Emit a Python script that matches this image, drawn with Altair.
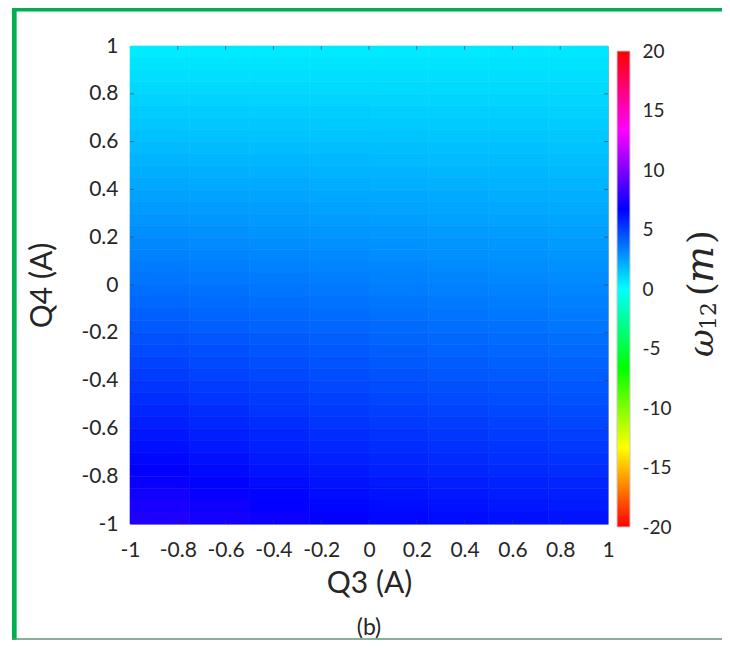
import altair as alt
import pandas as pd

# ---- data ----
q3_edges = [-1.0, -0.75, -0.5, -0.25, 0.0, 0.25, 0.5, 0.75, 1.0]
q4_edges = [1.0, 0.95, 0.9, 0.85, 0.8, 0.75, 0.7, 0.65, 0.6, 0.55, 0.5,
            0.45, 0.4, 0.35, 0.3, 0.25, 0.2, 0.15, 0.1, 0.05, 0.0,
            -0.05, -0.1, -0.15, -0.2, -0.25, -0.3, -0.35, -0.4, -0.45, -0.5,
            -0.55, -0.6, -0.65, -0.7, -0.75, -0.8, -0.85, -0.9, -0.95, -1.0]
# omega_12(m) per cell, rows from Q4 = 1 (top) down to Q4 = -1, columns Q3 = -1 .. 1
w12_rows = [
    [0.53, 0.54, 0.55, 0.56, 0.57, 0.58, 0.59, 0.60],
    [0.69, 0.69, 0.70, 0.70, 0.71, 0.71, 0.72, 0.72],
    [0.84, 0.84, 0.84, 0.84, 0.84, 0.84, 0.84, 0.84],
    [1.00, 0.99, 0.99, 0.98, 0.98, 0.97, 0.97, 0.96],
    [1.15, 1.14, 1.13, 1.12, 1.11, 1.10, 1.09, 1.08],
    [1.31, 1.30, 1.28, 1.27, 1.25, 1.24, 1.22, 1.21],
    [1.47, 1.45, 1.43, 1.41, 1.39, 1.37, 1.35, 1.33],
    [1.63, 1.60, 1.58, 1.55, 1.53, 1.50, 1.48, 1.45],
    [1.79, 1.76, 1.73, 1.70, 1.67, 1.64, 1.61, 1.58],
    [1.95, 1.92, 1.88, 1.85, 1.81, 1.78, 1.74, 1.71],
    [2.11, 2.07, 2.03, 1.99, 1.95, 1.91, 1.87, 1.83],
    [2.28, 2.23, 2.19, 2.14, 2.10, 2.05, 2.01, 1.96],
    [2.44, 2.39, 2.34, 2.29, 2.24, 2.19, 2.14, 2.09],
    [2.61, 2.55, 2.50, 2.44, 2.39, 2.33, 2.28, 2.22],
    [2.77, 2.71, 2.65, 2.59, 2.53, 2.47, 2.41, 2.35],
    [2.94, 2.88, 2.81, 2.75, 2.68, 2.62, 2.55, 2.49],
    [3.11, 3.04, 2.97, 2.90, 2.83, 2.76, 2.69, 2.62],
    [3.28, 3.20, 3.13, 3.05, 2.98, 2.90, 2.83, 2.75],
    [3.45, 3.37, 3.29, 3.21, 3.13, 3.05, 2.97, 2.89],
    [3.62, 3.54, 3.45, 3.37, 3.28, 3.20, 3.11, 3.03],
    [3.80, 3.71, 3.61, 3.52, 3.43, 3.34, 3.26, 3.17],
    [3.98, 3.88, 3.78, 3.68, 3.59, 3.49, 3.40, 3.32],
    [4.17, 4.06, 3.95, 3.84, 3.74, 3.65, 3.56, 3.47],
    [4.36, 4.23, 4.11, 4.00, 3.90, 3.80, 3.71, 3.62],
    [4.54, 4.41, 4.28, 4.16, 4.05, 3.95, 3.86, 3.77],
    [4.73, 4.59, 4.45, 4.33, 4.21, 4.11, 4.01, 3.93],
    [4.92, 4.77, 4.62, 4.49, 4.37, 4.26, 4.17, 4.08],
    [5.11, 4.95, 4.79, 4.65, 4.53, 4.42, 4.32, 4.24],
    [5.31, 5.13, 4.97, 4.82, 4.69, 4.58, 4.48, 4.40],
    [5.50, 5.31, 5.14, 4.99, 4.85, 4.74, 4.64, 4.55],
    [5.69, 5.49, 5.31, 5.16, 5.02, 4.89, 4.79, 4.71],
    [5.89, 5.68, 5.49, 5.32, 5.18, 5.06, 4.95, 4.87],
    [6.08, 5.86, 5.67, 5.49, 5.34, 5.22, 5.11, 5.03],
    [6.28, 6.05, 5.84, 5.66, 5.51, 5.38, 5.28, 5.20],
    [6.48, 6.24, 6.02, 5.84, 5.68, 5.54, 5.44, 5.36],
    [6.68, 6.43, 6.20, 6.01, 5.84, 5.71, 5.60, 5.52],
    [6.88, 6.62, 6.38, 6.18, 6.01, 5.87, 5.77, 5.69],
    [7.08, 6.81, 6.56, 6.36, 6.18, 6.04, 5.93, 5.85],
    [7.28, 7.00, 6.75, 6.53, 6.35, 6.21, 6.10, 6.02],
    [7.48, 7.19, 6.93, 6.71, 6.52, 6.38, 6.26, 6.19],
]
q3_ticks = [-1, -0.8, -0.6, -0.4, -0.2, 0, 0.2, 0.4, 0.6, 0.8, 1]
q4_ticks = [-1, -0.8, -0.6, -0.4, -0.2, 0, 0.2, 0.4, 0.6, 0.8, 1]
inner_ticks = [-0.8, -0.6, -0.4, -0.2, 0, 0.2, 0.4, 0.6, 0.8]
colorbar_ticks = [20, 15, 10, 5, 0, -5, -10, -15, -20]
colorbar_range = [-20, 20]
hsv_stops = [-20, -13.3333, -6.6667, 0, 6.6667, 13.3333, 20]
hsv_colors = ["#ff0000", "#ffff00", "#00ff00", "#00ffff", "#0000ff", "#ff00ff", "#ff0000"]

rows = []
for i, vals in enumerate(w12_rows):
    for j, v in enumerate(vals):
        rows.append({"q3": q3_edges[j], "q3b": q3_edges[j + 1],
                     "q4": q4_edges[i + 1], "q4b": q4_edges[i], "w": v})
df = pd.DataFrame(rows)

FONT = "Lato"
TXT = "#262626"
label_expr = "datum.value < 0 ? '-' + format(-datum.value, '~g') : format(datum.value, '~g')"
cscale = alt.Scale(domain=hsv_stops, range=hsv_colors, interpolate="rgb")
qscale = alt.Scale(domain=[-1, 1], nice=False, zero=False)

heat = alt.Chart(df).mark_rect(strokeWidth=0.6).encode(
    x=alt.X("q3:Q", scale=qscale,
            axis=alt.Axis(title="Q3 (A)", values=q3_ticks, labelExpr=label_expr,
                          labelFont=FONT, labelFontSize=21, labelColor=TXT, labelPadding=15,
                          labelFlush=False, labelOverlap=False,
                          ticks=False, domain=False, grid=False,
                          titleFont=FONT, titleFontSize=30, titleFontWeight="normal",
                          titleColor=TXT, titleX=239, titleY=44, titleBaseline="top",
                          titleAlign="center")),
    x2="q3b:Q",
    y=alt.Y("q4:Q", scale=qscale,
            axis=alt.Axis(title="Q4 (A)", values=q4_ticks, labelExpr=label_expr, orient="left",
                          labelFont=FONT, labelFontSize=21, labelColor=TXT, labelPadding=12,
                          labelFlush=False, labelOverlap=False,
                          ticks=False, domain=False, grid=False,
                          titleFont=FONT, titleFontSize=30, titleFontWeight="normal",
                          titleColor=TXT, titleX=-73, titleY=239, titleAngle=270,
                          titleBaseline="bottom", titleAlign="center")),
    y2="q4b:Q",
    color=alt.Color("w:Q", scale=cscale, legend=None),
    stroke=alt.Stroke("w:Q", scale=cscale, legend=None),
)

# small inward ticks on the frame
tick_df = pd.DataFrame({"t": inner_ticks})
TICK = "#3a3a3a"
xt_top = alt.Chart(tick_df).mark_rule(color=TICK, strokeWidth=1, opacity=0.6).encode(
    x=alt.X("t:Q", scale=qscale), y=alt.value(0), y2=alt.value(4))
xt_bot = alt.Chart(tick_df).mark_rule(color=TICK, strokeWidth=1, opacity=0.6).encode(
    x=alt.X("t:Q", scale=qscale), y=alt.value(474), y2=alt.value(478))
yt_left = alt.Chart(tick_df).mark_rule(color=TICK, strokeWidth=1, opacity=0.6).encode(
    y=alt.Y("t:Q", scale=qscale, axis=None), x=alt.value(0), x2=alt.value(4))
yt_right = alt.Chart(tick_df).mark_rule(color=TICK, strokeWidth=1, opacity=0.6).encode(
    y=alt.Y("t:Q", scale=qscale, axis=None), x=alt.value(474), x2=alt.value(478))

# colour bar: one rect spanning the colour-scale domain, filled with the same hsv stops
cb_df = pd.DataFrame({"lo": [colorbar_range[0]], "hi": [colorbar_range[1]]})
gradient = alt.LinearGradient(
    gradient="linear", x1=0, x2=0, y1=1, y2=0,
    stops=[alt.GradientStop(color=c, offset=(s - colorbar_range[0]) / (colorbar_range[1] - colorbar_range[0]))
           for s, c in zip(hsv_stops, hsv_colors)])
colorbar = alt.Chart(cb_df).mark_rect(fill=gradient, stroke="#c8c8c8", strokeWidth=1).encode(
    x=alt.value(487), x2=alt.value(500),
    y=alt.Y("lo:Q", scale=alt.Scale(domain=colorbar_range, range=[481, 5], nice=False, zero=False),
            axis=alt.Axis(orient="right", title=None, values=colorbar_ticks, labelExpr=label_expr,
                          offset=22, labelFont=FONT, labelFontSize=19, labelColor=TXT,
                          labelPadding=12, labelFlush=False, labelOverlap=False,
                          labelAlign="left", labelBaseline="middle",
                          ticks=False, domain=False, grid=False)),
    y2="hi:Q",
)

one = alt.Data(values=[{"k": 1}])


def txt(s, x, y, size, font, style="normal", align="left", angle=0, baseline="alphabetic"):
    return alt.Chart(one).mark_text(text=s, font=font, fontSize=size, fontStyle=style,
                                    align=align, angle=angle, baseline=baseline,
                                    color=TXT).encode(x=alt.value(x), y=alt.value(y))


SERIF = "DejaVu Serif"
cb_title = [
    txt("ω", 583, 311, 34, SERIF, "italic", angle=270),
    txt("12", 586, 284, 22, SERIF, angle=270),
    txt("(", 583, 250, 35, SERIF, angle=270),
    txt("m", 583, 237, 39, SERIF, "italic", angle=270),
    txt(")", 583, 198, 35, SERIF, angle=270),
]
caption = txt("(b)", 239, 582, 23, FONT, align="center", baseline="middle")

green = "#00b050"
left_line = alt.Chart(one).mark_rule(color=green, strokeWidth=4.7).encode(
    x=alt.value(-115.7), y=alt.value(-38), y2=alt.value(594))
top_line = alt.Chart(one).mark_rule(color=green, strokeWidth=3.5).encode(
    x=alt.value(-118), x2=alt.value(592), y=alt.value(-36.3))
bottom_line = alt.Chart(one).mark_rule(color="#5a9a78", strokeWidth=1.5).encode(
    x=alt.value(-118), x2=alt.value(592), y=alt.value(593))

chart = alt.layer(heat, xt_top, xt_bot, yt_left, yt_right, colorbar, caption,
                  left_line, top_line, bottom_line, *cb_title).resolve_scale(
    y="independent"
).properties(
    width=478, height=478,
    padding={"left": 122, "top": 38, "right": 114, "bottom": 116},
    autosize=alt.AutoSizeParams(type="none"),
).configure_view(stroke="#a8a8a8", strokeWidth=1)

chart.save("out.html", embed_options={"renderer": "svg", "actions": False})
